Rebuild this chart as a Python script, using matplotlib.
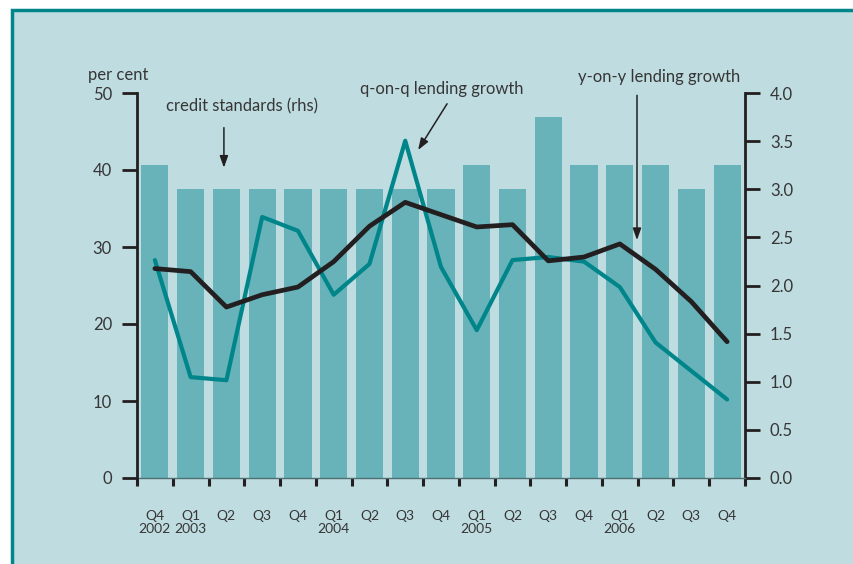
import matplotlib
matplotlib.use("Agg")
import matplotlib.pyplot as plt
from matplotlib.patches import Rectangle

plt.rcParams['font.family'] = ['Lato', 'DejaVu Sans']

quarters = ["Q4\n2002", "Q1\n2003", "Q2", "Q3", "Q4", "Q1\n2004", "Q2", "Q3", "Q4",
            "Q1\n2005", "Q2", "Q3", "Q4", "Q1\n2006", "Q2", "Q3", "Q4"]
# credit standards, right-hand scale
credit_standards = [3.25, 3.0, 3.0, 3.0, 3.0, 3.0, 3.0, 3.0, 3.0,
                    3.25, 3.0, 3.75, 3.25, 3.25, 3.25, 3.0, 3.25]
# lending growth, per cent (left-hand scale)
qoq_growth = [28.3, 13.1, 12.7, 33.9, 32.1, 23.8, 27.8, 43.8, 27.4,
              19.2, 28.3, 28.7, 28.1, 24.8, 17.6, 13.9, 10.2]
yoy_growth = [27.2, 26.8, 22.2, 23.8, 24.8, 28.1, 32.7, 35.8, 34.2,
              32.6, 32.9, 28.2, 28.7, 30.4, 27.1, 22.9, 17.7]
left_ticks = [0, 10, 20, 30, 40, 50]
right_ticks = [0.0, 0.5, 1.0, 1.5, 2.0, 2.5, 3.0, 3.5, 4.0]

bg = "#bfdce0"
bar_col = "#67b3b9"
teal = "#00868a"
dark = "#231f20"
txt = "#363636"

fig = plt.figure(figsize=(8.54, 5.64), dpi=100, facecolor="white")
fig.patches.append(Rectangle((12 / 854, -0.05), 1.1, 1 - 10 / 564 + 0.05,
                             transform=fig.transFigure, facecolor=bg,
                             edgecolor=teal, linewidth=2.5, zorder=-10))

ax = fig.add_axes([137 / 854, 1 - 478 / 564, (745 - 137) / 854, (478 - 93) / 564])
ax.patch.set_visible(False)
x = list(range(len(quarters)))

# bars on the host axes, shown against the right-hand scale
ax.bar(x, credit_standards, width=0.76, color=bar_col, zorder=1)
ax.set_ylim(0, 4)
ax.set_xlim(-0.5, len(quarters) - 0.5)

ax2 = ax.twinx()
ax2.plot(x, qoq_growth, color=teal, lw=3.0, solid_capstyle="round", zorder=3)
ax2.plot(x, yoy_growth, color=dark, lw=3.4, solid_capstyle="round", zorder=4)
ax2.set_ylim(0, 50)

# swap sides: host (bars) uses the right scale, twin (lines) the left one
ax.yaxis.tick_right()
ax2.yaxis.tick_left()
ax.set_yticks(right_ticks)
ax.set_yticklabels([f"{v:.1f}" for v in right_ticks])
ax2.set_yticks(left_ticks)

for a in (ax, ax2):
    for s in a.spines.values():
        s.set_visible(False)
ax2.spines["left"].set_visible(True)
ax2.spines["left"].set_color(dark)
ax2.spines["left"].set_linewidth(2)
ax.spines["right"].set_visible(True)
ax.spines["right"].set_color(dark)
ax.spines["right"].set_linewidth(2)
ax.spines["bottom"].set_visible(True)
ax.spines["bottom"].set_color("#4f6f72")
ax.spines["bottom"].set_linewidth(1)

ax.tick_params(axis="y", which="major", length=11, width=2, color=dark,
               labelsize=12, labelcolor=txt, pad=7, direction="out")
ax2.tick_params(axis="y", which="major", length=11, width=2, color=dark,
                labelsize=12, labelcolor=txt, pad=7, direction="out")
ax2.tick_params(axis="x", which="both", length=0, labelbottom=False)

# boundaries as major ticks, quarter labels as minor ticks
ax.set_xticks([i - 0.5 for i in range(len(quarters) + 1)])
ax.set_xticklabels([])
ax.set_xticks(x, minor=True)
ax.set_xticklabels(quarters, minor=True)
ax.tick_params(axis="x", which="major", length=6, width=2.2, color=dark, direction="out")
ax.tick_params(axis="x", which="minor", length=0, labelsize=10, labelcolor=txt, pad=23)
for lab in ax.get_xticklabels(minor=True):
    lab.set_linespacing(1.1)

fig.text(118 / 854, 1 - 75 / 564, "per cent", ha="center", va="center",
         fontsize=12, color=txt)

arrow = dict(arrowstyle="-|>,head_width=0.25,head_length=0.7", color=dark, lw=1.1,
             shrinkA=0, shrinkB=0)
ax2.annotate("", xy=(1.93, 40.3), xytext=(1.93, 45.5), arrowprops=arrow,
             annotation_clip=False)
ax2.text(2.43, 48.2, "credit standards (rhs)", ha="center", va="center",
         fontsize=12, color=txt)
ax2.annotate("", xy=(7.36, 42.6), xytext=(8.17, 48.6), arrowprops=arrow,
             annotation_clip=False)
ax2.text(8.03, 50.5, "q-on-q lending growth", ha="center", va="center",
         fontsize=12, color=txt, clip_on=False)
ax2.annotate("", xy=(13.48, 30.9), xytext=(13.48, 49.7), arrowprops=arrow,
             annotation_clip=False)
ax2.text(14.1, 52.1, "y-on-y lending growth", ha="center", va="center",
         fontsize=12, color=txt, clip_on=False)

fig.savefig("out.png", dpi=100, facecolor="white")
